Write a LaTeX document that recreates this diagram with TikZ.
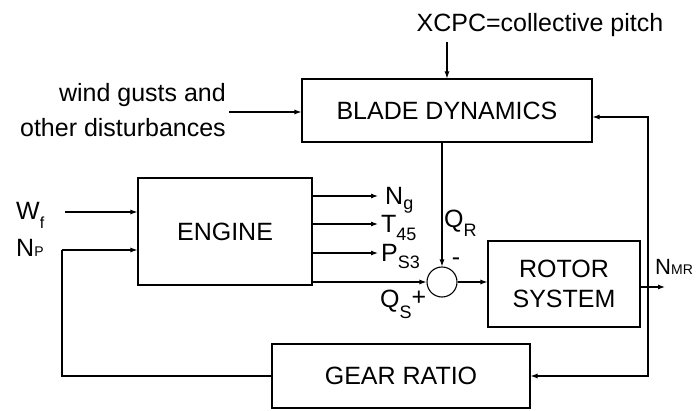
\documentclass[tikz,border=0pt]{standalone}
\usepackage{fontspec}
\setmainfont{Liberation Sans}
\usetikzlibrary{arrows.meta}
\newcommand{\sbs}[3][7pt]{\raisebox{-#1}{\fontsize{#2}{#2}\selectfont #3}}
\begin{document}
\begin{tikzpicture}[x=1pt,y=-1pt,
  box/.style={draw,line width=1.1pt,inner sep=0pt,font=\fontsize{25}{30}\selectfont,align=center},
  lbl/.style={inner sep=0pt,font=\fontsize{25}{35}\selectfont},
  conn/.style={line width=1.1pt,-{Latex[length=7pt,width=5pt]}},
  wire/.style={line width=1.1pt}]
\useasboundingbox (0,0) rectangle (699,411);

% blocks
\node[box,minimum width=290pt,minimum height=63pt] (blade) at (447,110.5) {BLADE DYNAMICS};
\node[box,minimum width=174pt,minimum height=107pt] (engine) at (225,231.5) {ENGINE};
\node[box,minimum width=152pt,minimum height=86pt] (rotor) at (564,284) {ROTOR\\SYSTEM};
\node[box,minimum width=258pt,minimum height=64pt] (gear) at (401,376) {GEAR RATIO};
\node[draw,circle,minimum size=30pt,inner sep=0pt,line width=1.1pt] (sum) at (442,282) {};

% text labels
\node[lbl] (xcpc) at (540,25) {XCPC=collective pitch};
\node[lbl,align=right,anchor=east] (wind) at (226,110) {wind gusts and\\other disturbances};
\node[lbl,anchor=base west] (wf) at (16,220) {W\sbs[9pt]{16}{f}};
\node[lbl,anchor=base west] (np) at (16,257) {N\sbs[0pt]{14}{P}};
\node[lbl,anchor=base west] (ng) at (385,205) {N\sbs[5pt]{18}{g}};
\node[lbl,anchor=base west] (t45) at (381,233) {T\sbs[8pt]{18}{45}};
\node[lbl,anchor=base west] (ps3) at (381,262) {P\sbs[7pt]{18}{S3}};
\node[lbl,anchor=base west] (qr) at (444,228) {Q\sbs[9pt]{18}{R}};
\node[lbl,anchor=base west] (qs) at (380,308) {Q\sbs[11pt]{18}{S}};
\node[lbl] (minus) at (456,262) {-};
\node[lbl] (plus) at (419,298) {+};
\node[lbl,anchor=base west,font=\fontsize{22}{22}\selectfont] (nmr) at (655,275) {N\sbs[0pt]{14}{MR}};

% coordinates
\coordinate (xin) at (447,42);
\coordinate (win) at (229,112);
\coordinate (wfin) at (65,212);
\coordinate (npc) at (62,250);
\coordinate (ngo) at (378,196);
\coordinate (t45o) at (378,224);
\coordinate (ps3o) at (378,253);
\coordinate (nmro) at (665,287);
\coordinate (jn) at (648,287);
\coordinate (bfb) at ([yshift=-6.5pt]blade.east);

% connectors
\draw[conn] (xin) -- (xin |- blade.north);
\draw[conn] (win) -- (win -| blade.west);
\draw[conn] (wfin) -- (wfin -| engine.west);
\draw[wire] (gear.west) -| (npc);
\draw[conn] (npc) -- (npc -| engine.west);
\draw[conn] (ngo -| engine.east) -- (ngo);
\draw[conn] (t45o -| engine.east) -- (t45o);
\draw[conn] (ps3o -| engine.east) -- (ps3o);
\draw[conn] (engine.east |- sum.west) -- (sum.west);
\draw[conn] (blade.south -| sum.north) -- (sum.north);
\draw[conn] (sum.east) -- (sum.east -| rotor.west);
\draw[conn] (rotor.east |- nmro) -- (nmro);
\draw[conn] (jn) |- (bfb);
\draw[conn] (jn) |- (gear.east);
\end{tikzpicture}
\end{document}
